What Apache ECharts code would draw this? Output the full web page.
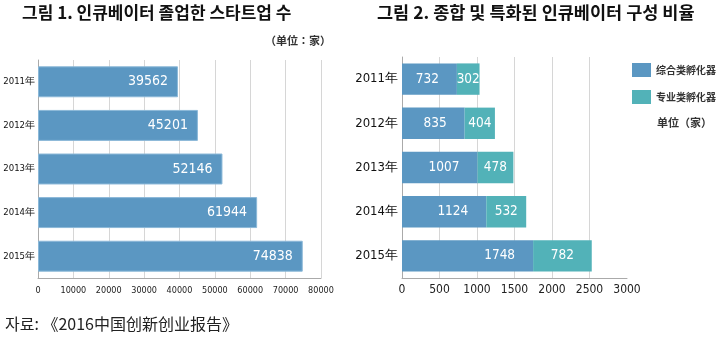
<!DOCTYPE html>
<html>
<head>
<meta charset="utf-8">
<script src="https://cdn.jsdelivr.net/npm/echarts@6/dist/echarts.min.js"></script>
<style>
  html, body { margin: 0; padding: 0; background: #fff; }
  #chart { width: 719px; height: 341px; }
</style>
</head>
<body>
<div id="chart"></div>
<script>
// Years shown on both charts
const years = ['2011年', '2012年', '2013年', '2014年', '2015年'];
// Figure 1: startups graduated from incubators
const graduates = [39562, 45201, 52146, 61944, 74838];
// Figure 2: comprehensive vs. specialised incubators
const comprehensive = [732, 835, 1007, 1124, 1748];
const specialised = [302, 404, 478, 532, 782];
const seriesNames = ['综合类孵化器', '专业类孵化器'];

const KR = '"Noto Sans CJK KR", "Noto Sans CJK SC", sans-serif';
const NARROW = '"DejaVu Sans Condensed", "Liberation Sans", Arial, sans-serif';
const BLUE = '#5b97c2';
const TEAL = '#52b2b8';
const GRIDLINE = '#d6d6d6';
const plain = v => String(v);

const chart = echarts.init(document.getElementById('chart'));
chart.setOption({
  animation: false,
  backgroundColor: '#fff',
  title: [
    { text: '그림 1. 인큐베이터 졸업한 스타트업 수', left: 22, top: 4, padding: 0,
      textStyle: { fontFamily: KR, fontSize: 17, fontWeight: 'bold', color: '#111' } },
    { text: '그림 2. 종합 및 특화된 인큐베이터 구성 비율', left: 377, top: 4, padding: 0,
      textStyle: { fontFamily: KR, fontSize: 17.5, fontWeight: 'bold', color: '#111' } }
  ],
  legend: {
    orient: 'vertical', left: 632, top: 63, padding: 0,
    itemWidth: 19, itemHeight: 14, itemGap: 13,
    icon: 'rect',
    data: seriesNames,
    textStyle: { fontFamily: KR, fontSize: 10, fontWeight: 'bold', color: '#333' }
  },
  graphic: [
    { type: 'text', left: 265, top: 35,
      style: { text: '（单位：家）', font: 'bold 11px ' + KR, fill: '#333' } },
    { type: 'text', left: 657, top: 117,
      style: { text: '单位（家）', font: 'bold 11px ' + KR, fill: '#333' } },
    { type: 'text', left: 5, top: 316,
      style: { text: '자료: 《2016中国创新创业报告》', font: '16px ' + KR, fill: '#222' } }
  ],
  grid: [
    { left: 38, right: 398, top: 60, bottom: 63, outerBoundsMode: 'none', containLabel: false },
    { left: 402, right: 92, top: 57, bottom: 63, outerBoundsMode: 'none', containLabel: false }
  ],
  xAxis: [
    { type: 'value', gridIndex: 0, min: 0, max: 80000, interval: 10000,
      axisLine: { show: true, lineStyle: { color: '#aaa' } },
      axisTick: { show: false },
      axisLabel: { fontFamily: NARROW, fontSize: 9, color: '#222', margin: 8, formatter: plain },
      splitLine: { show: true, lineStyle: { color: GRIDLINE } } },
    { type: 'value', gridIndex: 1, min: 0, max: 3000, interval: 500,
      axisLine: { show: true, lineStyle: { color: '#aaa' } },
      axisTick: { show: false },
      axisLabel: { fontFamily: NARROW, fontSize: 12, color: '#222', margin: 6, formatter: plain },
      splitLine: { show: true, lineStyle: {
        color: [GRIDLINE, GRIDLINE, GRIDLINE, GRIDLINE, GRIDLINE, GRIDLINE, 'rgba(0,0,0,0)'] } } }
  ],
  yAxis: [
    { type: 'category', gridIndex: 0, data: years, inverse: true,
      axisLine: { show: true, lineStyle: { color: '#aaa' } },
      axisTick: { show: false },
      axisLabel: { fontFamily: NARROW, fontSize: 9.5, color: '#111', margin: 3 } },
    { type: 'category', gridIndex: 1, data: years, inverse: true,
      axisLine: { show: true, lineStyle: { color: '#aaa' } },
      axisTick: { show: false },
      axisLabel: { fontFamily: NARROW, fontSize: 13, color: '#111', margin: 4 } }
  ],
  series: [
    { type: 'bar', name: 'graduates', xAxisIndex: 0, yAxisIndex: 0,
      data: graduates, barCategoryGap: '29%',
      itemStyle: { color: BLUE, borderColor: '#8bb8d8', borderWidth: 1 },
      label: { show: true, position: 'insideRight', distance: 10,
        fontFamily: NARROW, fontSize: 14, color: '#fff' } },
    { type: 'bar', name: seriesNames[0], xAxisIndex: 1, yAxisIndex: 1, stack: 'total',
      data: comprehensive, barCategoryGap: '29%',
      itemStyle: { color: BLUE },
      label: { show: true, position: 'insideRight', distance: 18,
        fontFamily: NARROW, fontSize: 13.5, color: '#fff' } },
    { type: 'bar', name: seriesNames[1], xAxisIndex: 1, yAxisIndex: 1, stack: 'total',
      data: specialised,
      itemStyle: { color: TEAL },
      label: { show: true, position: 'inside',
        fontFamily: NARROW, fontSize: 13.5, color: '#fff' } }
  ]
});
</script>
</body>
</html>
